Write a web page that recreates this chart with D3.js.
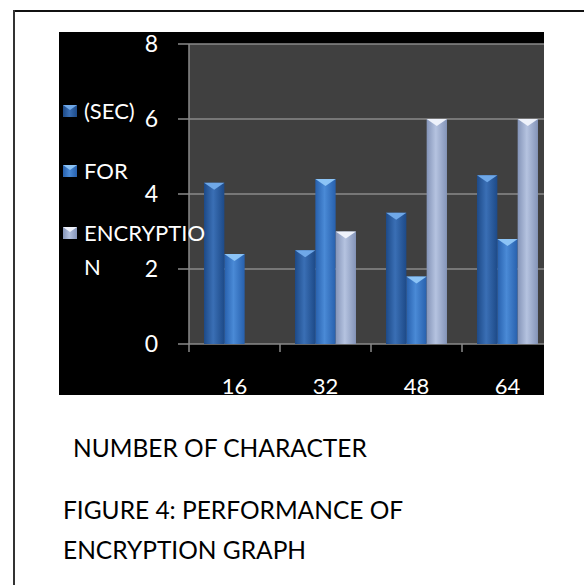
<!DOCTYPE html>
<html>
<head>
<meta charset="utf-8">
<script src="https://d3js.org/d3.v7.min.js"></script>
<style>
  body { margin: 0; background: #fff; }
  svg { display: block; }
  text { font-family: Lato, "Open Sans", sans-serif; }
</style>
</head>
<body>
<script>
// chars per message, time in seconds
const categories = ["16", "32", "48", "64"];
const series = ["(SEC)", "FOR", "ENCRYPTION"];
const secValues = [4.3, 2.5, 3.5, 4.5];
const forValues = [2.4, 4.4, 1.8, 2.8];
const encValues = [0, 3.0, 6.0, 6.0];
const yTicks = [0, 2, 4, 6, 8];
const legendLines = [["(SEC)"], ["FOR"], ["ENCRYPTIO", "N"]];

const W = 584, H = 585;
const svg = d3.select("body").append("svg").attr("width", W).attr("height", H);

// page frame
svg.append("line").attr("x1", 13).attr("x2", W).attr("y1", 11).attr("y2", 11)
    .attr("stroke", "#111").attr("stroke-width", 2);
svg.append("line").attr("x1", 14).attr("x2", 14).attr("y1", 10).attr("y2", H)
    .attr("stroke", "#333").attr("stroke-width", 2);

const box = {x: 59, y: 32, w: 485, h: 363};
const plot = {left: 189, top: 44, bottom: 344, right: 544};

const defs = svg.append("defs");
defs.append("clipPath").attr("id", "boxclip").append("rect")
    .attr("x", box.x).attr("y", box.y).attr("width", box.w).attr("height", box.h);

const palettes = [
    {edge: "#1d4a88", mid: "#3a6fb5", cap: "#6fa8e8"},
    {edge: "#2760ad", mid: "#4a8ad6", cap: "#8cc4f6"},
    {edge: "#8494b8", mid: "#b5c3e0", cap: "#eef2fb"}
];
palettes.forEach(function (p, i) {
    const g = defs.append("linearGradient").attr("id", "grad" + i)
        .attr("x1", "0").attr("x2", "1").attr("y1", "0").attr("y2", "0");
    g.append("stop").attr("offset", "0%").attr("stop-color", p.edge);
    g.append("stop").attr("offset", "45%").attr("stop-color", p.mid);
    g.append("stop").attr("offset", "100%").attr("stop-color", p.edge);
});

const root = svg.append("g").attr("clip-path", "url(#boxclip)");
root.append("rect").attr("x", box.x).attr("y", box.y).attr("width", box.w).attr("height", box.h)
    .attr("fill", "#000");
root.append("rect").attr("x", plot.left).attr("y", plot.top)
    .attr("width", plot.right - plot.left).attr("height", plot.bottom - plot.top)
    .attr("fill", "#404040");

const y = d3.scaleLinear().domain([0, 8]).range([plot.bottom, plot.top]);
const x0 = d3.scaleBand().domain(categories).range([plot.left, plot.left + 4 * 91]);
const x1 = d3.scaleBand().domain(series).range([0, x0.bandwidth()]).paddingOuter(0.74);

// gridlines
root.selectAll(".grid").data(yTicks).enter().append("line")
    .attr("x1", plot.left - 11).attr("x2", plot.right)
    .attr("y1", d => y(d)).attr("y2", d => y(d))
    .attr("stroke", "#8a8a8a").attr("stroke-width", 1.5);
root.append("line").attr("x1", plot.left).attr("x2", plot.left)
    .attr("y1", plot.top).attr("y2", plot.bottom + 8)
    .attr("stroke", "#8a8a8a").attr("stroke-width", 1.5);
root.selectAll(".xtick").data(categories.slice(1)).enter().append("line")
    .attr("x1", d => x0(d)).attr("x2", d => x0(d))
    .attr("y1", plot.bottom).attr("y2", plot.bottom + 8)
    .attr("stroke", "#8a8a8a").attr("stroke-width", 1.5);

// bars
const rows = categories.map((c, i) => ({cat: c, vals: [secValues[i], forValues[i], encValues[i]]}));
const grp = root.selectAll(".cat").data(rows).enter().append("g")
    .attr("transform", d => "translate(" + x0(d.cat) + ",0)");
grp.each(function (d) {
    const g = d3.select(this);
    d.vals.forEach(function (v, si) {
        if (!v) return;
        const bx = x1(series[si]), bw = x1.bandwidth(), top = y(v);
        g.append("rect").attr("x", bx).attr("y", top).attr("width", bw)
            .attr("height", y(0) - top).attr("fill", "url(#grad" + si + ")");
        g.append("path")
            .attr("d", "M" + bx + "," + top + "L" + (bx + bw) + "," + top + "L" + (bx + bw / 2) + "," + (top + 7) + "Z")
            .attr("fill", palettes[si].cap);
    });
});

// y labels
root.selectAll(".ylab").data(yTicks).enter().append("text")
    .attr("x", 158).attr("y", d => y(d)).attr("dy", "0.36em")
    .attr("text-anchor", "end").attr("fill", "#fff").attr("font-size", 23)
    .text(d => d);

// x labels
root.selectAll(".xlab").data(categories).enter().append("text")
    .attr("x", d => x0(d) + x0.bandwidth() / 2).attr("y", 394)
    .attr("text-anchor", "middle").attr("fill", "#fff").attr("font-size", 22)
    .text(d => d);

// legend
const legY = [111, 171, 233];
legendLines.forEach(function (lines, i) {
    const ly = legY[i];
    root.append("rect").attr("x", 63).attr("y", ly - 6).attr("width", 14).attr("height", 12)
        .attr("fill", "url(#grad" + i + ")");
    root.append("path")
        .attr("d", "M63," + (ly - 6) + "L77," + (ly - 6) + "L70," + (ly - 1) + "Z")
        .attr("fill", palettes[i].cap);
    lines.forEach(function (t, k) {
        root.append("text").attr("x", 84).attr("y", ly + k * 34).attr("dy", "0.36em")
            .attr("fill", "#fff").attr("font-size", 22).text(t);
    });
});

// captions under the chart
const captions = [
    {t: "NUMBER OF CHARACTER", x: 73, y: 448},
    {t: "FIGURE 4: PERFORMANCE OF", x: 63, y: 510},
    {t: "ENCRYPTION GRAPH", x: 63, y: 550}
];
svg.selectAll(".cap").data(captions).enter().append("text")
    .attr("x", d => d.x).attr("y", d => d.y).attr("dy", "0.36em")
    .attr("fill", "#000").attr("font-size", 24.5).text(d => d.t);
</script>
</body>
</html>
